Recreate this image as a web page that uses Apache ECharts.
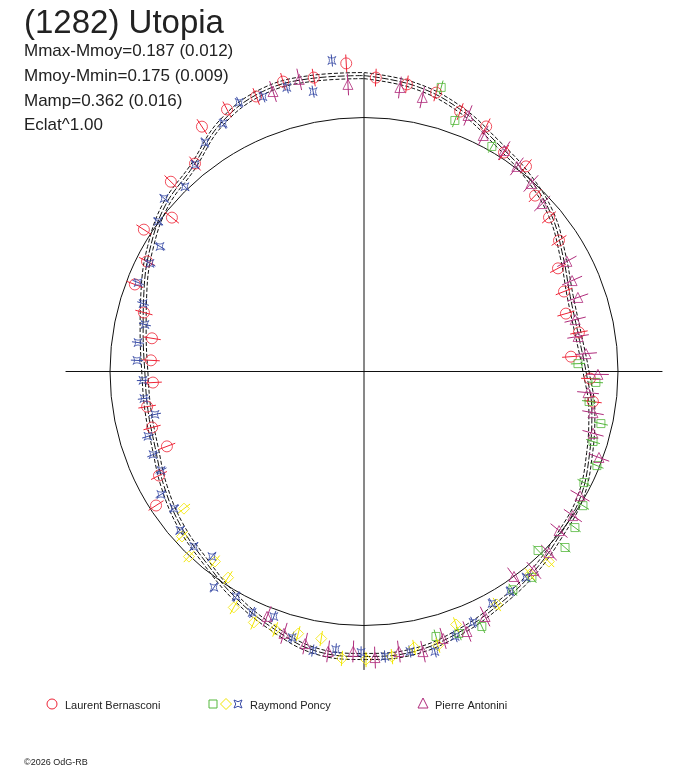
<!DOCTYPE html>
<html><head><meta charset="utf-8">
<script src="https://cdn.jsdelivr.net/npm/echarts@6/dist/echarts.min.js"></script>
<style>html,body{margin:0;padding:0;background:#fff}#c{width:688px;height:768px}</style>
</head><body><div id="c"></div>
<script>
// ---- data: rotational phase (deg, clockwise from top) and relative flux (mean circle = 1) ----
const fitPhase = [0,10,20,30,40,50,60,70,80,90,100,110,120,130,140,150,160,170,180,190,200,210,220,230,240,250,260,270,280,290,300,310,320,330,340,350,360];
const fitFlux  = [1.165,1.143,1.100,1.042,1.003,0.962,0.905,0.864,0.856,0.874,0.911,0.945,0.985,1.005,1.034,1.060,1.093,1.120,1.122,1.116,1.070,1.022,0.974,0.943,0.908,0.875,0.864,0.863,0.883,0.922,0.972,1.020,1.050,1.128,1.172,1.172,1.165];
const fitSigma = 0.012;

const bernPhase = [356.7,350.3,344.4,338.6,332.4,326.5,320.9,314.5,308.7,302.8,296.9,290.8,285.0,278.9,273.0,267.0,260.8,255.2,249.2,243.1,237.2,2.3,8.5,14.5,20.3,26.5,32.6,38.3,44.2,50.2,56.1,62.0,68.2,74.0,79.7,85.9,91.8,97.5];
const bernFlux  = [1.215,1.174,1.185,1.163,1.164,1.156,1.055,1.066,0.969,1.031,0.958,0.965,0.897,0.845,0.840,0.832,0.865,0.863,0.830,0.905,0.974,1.158,1.143,1.134,1.091,1.078,1.023,1.029,0.966,0.948,0.925,0.865,0.848,0.827,0.860,0.817,0.890,0.909];
const bernErr = 0.035;

const poncyBluePhase = [354.1,349.7,344.8,339.8,335.1,330.4,325.2,320.8,315.9,310.9,306.1,301.5,296.8,291.5,287.1,282.1,277.3,272.8,267.7,263.0,258.4,253.3,248.5,244.0,238.8,234.2,229.2,224.2,219.4,214.8,209.6,204.9,200.2,195.1,190.4,185.8,180.6,175.8,170.7,165.8,161.0,156.5,151.1,146.4,141.8];
const poncyBlueFlux  = [1.231,1.120,1.159,1.153,1.168,1.123,1.098,1.052,1.013,1.041,1.003,0.942,0.944,0.956,0.910,0.882,0.897,0.895,0.871,0.873,0.840,0.888,0.893,0.889,0.935,0.922,0.957,0.961,0.943,1.035,1.019,1.046,1.028,1.085,1.117,1.100,1.106,1.125,1.117,1.137,1.103,1.077,1.043,1.039,1.032];
const poncyBlueErr = 0.024;

const poncyYellowPhase = [232.7,227.8,223.4,218.1,213.4,208.9,203.7,199.0,194.1,189.1,184.4,179.6,174.4,169.7,164.9,160.0,150.3,140.7,135.8];
const poncyYellowFlux  = [0.891,0.967,1.003,0.951,0.972,1.061,1.079,1.074,1.064,1.065,1.133,1.134,1.128,1.104,1.117,1.060,1.056,1.032,1.044];
const poncyYellowErr = 0.030;

const poncyGreenPhase = [15.2,19.9,29.6,87.9,92.7,97.6,102.4,107.0,112.0,116.8,121.5,126.5,131.2,135.8,140.8,145.7,155.2,160.1,164.8];
const poncyGreenFlux  = [1.159,1.051,1.019,0.843,0.914,0.894,0.955,0.943,0.989,0.970,1.011,1.033,1.052,0.983,1.046,1.040,1.106,1.097,1.081];
const poncyGreenErr = 0.028;

const antoPhase = [356.8,347.5,342.0,7.2,12.0,22.1,26.8,32.4,36.7,41.6,46.7,61.5,66.4,70.9,76.2,80.7,85.4,90.7,95.4,100.2,105.1,110.1,119.9,124.6,129.2,134.4,139.5,143.8,153.7,158.4,163.5,168.1,172.9,177.8,182.2,187.3,192.2,197.0,201.6];
const antoFlux  = [1.132,1.178,1.159,1.127,1.103,1.088,1.041,1.030,1.007,0.990,0.964,0.909,0.894,0.891,0.856,0.854,0.877,0.921,0.886,0.916,0.934,0.985,0.981,0.999,0.991,1.019,1.030,1.000,1.076,1.101,1.096,1.127,1.111,1.127,1.103,1.111,1.096,1.078,1.037];
const antoErr = 0.043;

const titleText = '(1282) Utopia';
const infoLines = ['Mmax-Mmoy=0.187 (0.012)','Mmoy-Mmin=0.175 (0.009)','Mamp=0.362 (0.016)','Eclat^1.00'];
const legendNames = ['Laurent Bernasconi','Raymond Poncy','Pierre Antonini'];
const footerText = '\u00a92026 OdG-RB';

// ---- styling ----
const C_RED = '#ee2436', C_BLUE = '#3a4ca6', C_YEL = '#f2e600', C_GRN = '#55b83c', C_MAG = '#b02c7c';
const UNIT = 254, RMAX = 1.25, CROSS = 1.175;
const STAR = 'path://M0,0 Q5,4 10,0 Q6,5 10,10 Q5,6 0,10 Q4,5 0,0 Z';
const FONT = '"Liberation Sans", Arial, sans-serif';

function pairs(ph, fl){ return ph.map((p,i)=>[fl[i], p]); }
function errSeries(ph, fl, err, color){
  return {type:'custom', coordinateSystem:'polar', data:pairs(ph,fl), silent:true, z:3,
    renderItem:(params, api)=>{
      const r=api.value(0), a=api.value(1);
      const p1=api.coord([r-err,a]), p2=api.coord([r+err,a]);
      return {type:'line', shape:{x1:p1[0],y1:p1[1],x2:p2[0],y2:p2[1]}, style:{stroke:color, lineWidth:1}};
    }};
}
function markSeries(ph, fl, symbol, size, color){
  return {type:'scatter', coordinateSystem:'polar', data:pairs(ph,fl), symbol:symbol, symbolSize:size, silent:true, z:4,
    itemStyle:{color:'rgba(0,0,0,0)', borderColor:color, borderWidth:1}};
}
function fitSeries(offset, dash){
  return {type:'line', coordinateSystem:'polar', data:pairs(fitPhase, fitFlux.map(v=>v+offset)), smooth:0.4,
    symbol:'none', silent:true, z:2, lineStyle:{color:'#111', width:1, type:dash}};
}
function starPts(cx, cy, s){
  const h=s/2, q=s*0.22;
  return [[cx-h,cy-h],[cx,cy-h+q],[cx+h,cy-h],[cx+h-q,cy],[cx+h,cy+h],[cx,cy+h-q],[cx-h,cy+h],[cx-h+q,cy]];
}

const chart = echarts.init(document.getElementById('c'));
const graphics = [
  {type:'text', style:{x:24, y:24, text:titleText, font:'33px '+FONT, fill:'#222', verticalAlign:'middle'}},
  ...infoLines.map((t,i)=>({type:'text', style:{x:24, y:51.5+i*24.7, text:t, font:'17px '+FONT, fill:'#222', verticalAlign:'middle'}})),
  {type:'circle', shape:{cx:52, cy:704, r:5}, style:{fill:'none', stroke:C_RED, lineWidth:1}},
  {type:'text', style:{x:65, y:705.5, text:legendNames[0], font:'11px '+FONT, fill:'#222', verticalAlign:'middle'}},
  {type:'rect', shape:{x:209, y:700, width:8, height:8}, style:{fill:'none', stroke:C_GRN, lineWidth:1}},
  {type:'polygon', shape:{points:[[226,698.5],[231.5,704],[226,709.5],[220.5,704]]}, style:{fill:'none', stroke:C_YEL, lineWidth:1}},
  {type:'polygon', shape:{points:starPts(238,704,8)}, style:{fill:'none', stroke:C_BLUE, lineWidth:1}},
  {type:'text', style:{x:250, y:705.5, text:legendNames[1], font:'11px '+FONT, fill:'#222', verticalAlign:'middle'}},
  {type:'polygon', shape:{points:[[423,698],[428,708],[418,708]]}, style:{fill:'none', stroke:C_MAG, lineWidth:1}},
  {type:'text', style:{x:435, y:705.5, text:legendNames[2], font:'11px '+FONT, fill:'#222', verticalAlign:'middle'}},
  {type:'text', style:{x:24, y:763, text:footerText, font:'9px '+FONT, fill:'#222', verticalAlign:'middle'}}
];

chart.setOption({
  backgroundColor:'#fff',
  animation:false,
  polar:{center:[364,371.5], radius:RMAX*UNIT},
  angleAxis:{type:'value', min:0, max:360, startAngle:90, clockwise:true, show:false,
    axisLine:{show:false}, axisTick:{show:false}, axisLabel:{show:false}, splitLine:{show:false}},
  radiusAxis:{type:'value', min:0, max:RMAX, show:false,
    axisLine:{show:false}, axisTick:{show:false}, axisLabel:{show:false}, splitLine:{show:false}},
  graphic:graphics,
  series:[
    {type:'custom', coordinateSystem:'polar', data:[[0,0]], silent:true, z:1,
      renderItem:(params, api)=>{
        const c=api.coord([0,0]), t=api.coord([1,0]);
        const R=Math.hypot(t[0]-c[0], t[1]-c[1]);
        const n=api.coord([CROSS,0]), e=api.coord([CROSS,90]), s=api.coord([CROSS,180]), w=api.coord([CROSS,270]);
        return {type:'group', children:[
          {type:'circle', shape:{cx:c[0], cy:c[1], r:R}, style:{fill:'none', stroke:'#111', lineWidth:1}},
          {type:'line', shape:{x1:w[0],y1:w[1],x2:e[0],y2:e[1]}, style:{stroke:'#111', lineWidth:1}},
          {type:'line', shape:{x1:n[0],y1:n[1],x2:s[0],y2:s[1]}, style:{stroke:'#111', lineWidth:1}}
        ]};
      }},
    fitSeries(0, [7,2]),
    fitSeries(fitSigma, [4,2]),
    fitSeries(-fitSigma, [4,2]),
    errSeries(bernPhase, bernFlux, bernErr, C_RED),
    markSeries(bernPhase, bernFlux, 'circle', 11, C_RED),
    errSeries(poncyGreenPhase, poncyGreenFlux, poncyGreenErr, C_GRN),
    markSeries(poncyGreenPhase, poncyGreenFlux, 'rect', 8, C_GRN),
    errSeries(poncyYellowPhase, poncyYellowFlux, poncyYellowErr, C_YEL),
    markSeries(poncyYellowPhase, poncyYellowFlux, 'diamond', 11, C_YEL),
    errSeries(poncyBluePhase, poncyBlueFlux, poncyBlueErr, C_BLUE),
    markSeries(poncyBluePhase, poncyBlueFlux, STAR, 8, C_BLUE),
    errSeries(antoPhase, antoFlux, antoErr, C_MAG),
    markSeries(antoPhase, antoFlux, 'triangle', 10, C_MAG)
  ]
});
</script></body></html>
